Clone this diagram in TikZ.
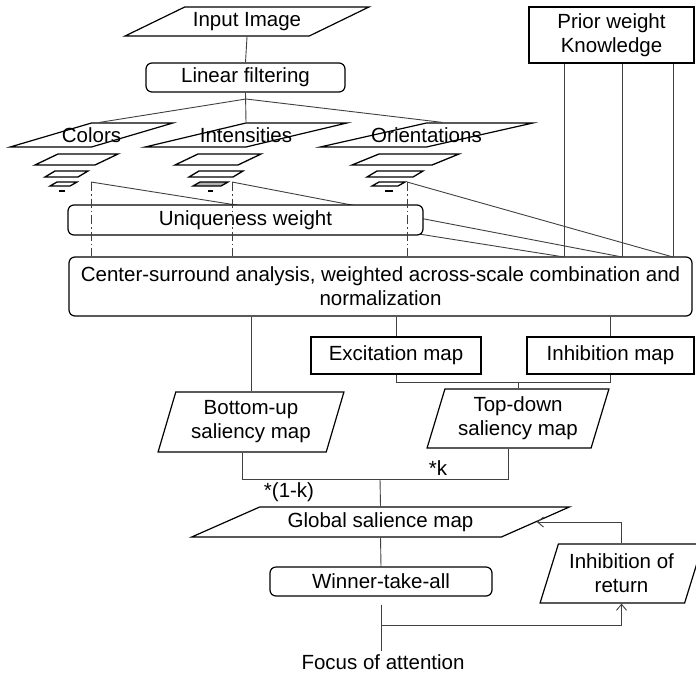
\documentclass[tikz,border=0pt]{standalone}
\usepackage{fontspec}
\setmainfont{Liberation Sans}
\usetikzlibrary{arrows.meta, positioning, shapes.geometric, calc}
\definecolor{cline}{HTML}{404040}
\tikzset{
  every picture/.style={line width=1pt},
  txt/.style={font=\fontsize{20.5}{24}\selectfont, align=center},
  plain/.style={txt, draw, line width=1.2pt, inner sep=0pt},
  rbox/.style={plain, rounded corners=6pt},
  para/.style 2 args={plain, trapezium, trapezium stretches=true, trapezium left angle=#1, trapezium right angle=#2},
  link/.style={draw=cline, line width=0.9pt},
  arrow/.style={link, -{Straight Barb[length=6pt, width=10pt]}},
  layer/.style={draw, line width=1.3pt},
  dashdot/.style={link, dash pattern=on 9pt off 3pt on 1.5pt off 3pt},
}
\begin{document}
\begin{tikzpicture}[x=1pt, y=-1pt]
  \useasboundingbox (0,0) rectangle (696,673);
  \node[para={19.5}{160.5}, minimum width=244pt, minimum height=29pt] (input) at (247,21.5) {Input Image};
  \node[rbox, minimum width=199pt, minimum height=29pt] (linfilt) at (245.5,77.5) {Linear filtering};
  \node[plain, minimum width=165pt, minimum height=56pt] (prior) at (611.5,35) {Prior weight\\Knowledge};
  \node[para={22}{158}, minimum width=163pt, minimum height=24pt] (colors) at (91.5,135) {\makebox[0pt]{Colors}};
  \node[para={22}{158}, minimum width=202pt, minimum height=24pt] (intens) at (246,135) {\makebox[0pt]{Intensities}};
  \node[para={22}{158}, minimum width=213pt, minimum height=24pt] (orient) at (426.5,135) {\makebox[0pt]{Orientations}};
  \coordinate (split) at (246,99);
  \draw[link] (input.south) -- (linfilt.north);
  \draw[link] (linfilt.south) -- (intens.north);
  \draw[link] (split) -- ([xshift=8pt]colors.north);
  \draw[link] (split) -- ([xshift=16pt]orient.north);
  % image pyramids
  \foreach \x/\w/\s in {35/60/23, 175/63/23, 352/80/27}
    \draw[layer] (\x,165) -- ++(\w,0) -- ++(\s,-11) -- ++(-\w,0) -- cycle;
  \foreach \x/\w in {45/33, 189/44, 367/46}
    \draw[layer] (\x,177) -- ++(\w,0) -- ++(10,-6) -- ++(-\w,0) -- cycle;
  \foreach \x/\w/\c in {50/20/white, 193/28/black!30, 372/26/white}
    \draw[layer, fill=\c] (\x,186) -- ++(\w,0) -- ++(7,-4) -- ++(-\w,0) -- cycle;
  \foreach \x/\w in {59/6, 208/5, 385/8}
    \draw[layer] (\x,191) -- ++(\w,0);
  \coordinate (cp) at (91,182);
  \coordinate (ip) at (232,182);
  \coordinate (op) at (407,182);
  \node[rbox, minimum width=623pt, minimum height=59pt] (cs) at (380.5,286.5) {Center-surround analysis, weighted across-scale combination and\\normalization};
  \coordinate (k1) at (564,257);
  \coordinate (k2) at (622,257);
  \coordinate (k3) at (673,257);
  \foreach \k in {k1,k2,k3}
    \draw[link] (\k |- prior.south) -- (\k);
  \draw[link] (cp) -- (k1);
  \draw[link] (ip) -- (k2);
  \draw[link] (op) -- (k3);
  \node[rbox, fill=white, minimum width=355pt, minimum height=30pt] (unique) at (245.5,220) {Uniqueness weight};
  \foreach \p in {cp,ip,op}
    \draw[dashdot] (\p) -- (\p |- cs.north);
  \node[plain, minimum width=170pt, minimum height=37pt] (excite) at (396,355.5) {Excitation map};
  \node[plain, minimum width=167pt, minimum height=37pt] (inhmap) at (610.5,355.5) {Inhibition map};
  \node[para={71.6}{108.4}, minimum width=186pt, minimum height=60pt] (bottomup) at (251,422) {Bottom-up\\saliency map};
  \node[para={71.3}{108.7}, minimum width=182pt, minimum height=59pt] (topdown) at (518,418.5) {Top-down\\saliency map};
  \coordinate (exjoin) at (396,382);
  \coordinate (merge) at (380,479);
  \draw[link] (cs.south -| bottomup.north) -- (bottomup.north);
  \draw[link] (excite.north) -- (excite.north |- cs.south);
  \draw[link] (inhmap.north) -- (inhmap.north |- cs.south);
  \draw[link] (excite.south) -- (exjoin) -| (inhmap.south);
  \draw[link] (exjoin -| topdown.north) -- (topdown.north);
  \draw[link] (bottomup.bottom side) |- (topdown.bottom side |- merge) -- (topdown.bottom side);
  \node[txt] (klab) at (438,468) {*k};
  \node[txt] (onek) at (289,492) {*(1-k)};
  \node[para={20.1}{159.9}, minimum width=379pt, minimum height=30pt] (global) at (380.5,522) {Global salience map};
  \node[rbox, minimum width=222pt, minimum height=29pt] (winner) at (381,581.5) {Winner-take-all};
  \node[para={68.7}{111.3}, minimum width=163pt, minimum height=59pt] (inhret) at (621.5,573.5) {Inhibition of\\return};
  \node[txt, inner sep=0pt] (focus) at (383,662) {Focus of attention};
  \coordinate (fork) at (381,625);
  \draw[link] (merge) -- (global.north);
  \draw[link] (global.south) -- (winner.north);
  \draw[link] ([yshift=-8pt]winner.south) -- ([yshift=3pt]winner.south |- focus.north);
  \draw[arrow] (fork) -| (inhret.south);
  \draw[arrow] (inhret.north) |- (global.right side);
\end{tikzpicture}
\end{document}
